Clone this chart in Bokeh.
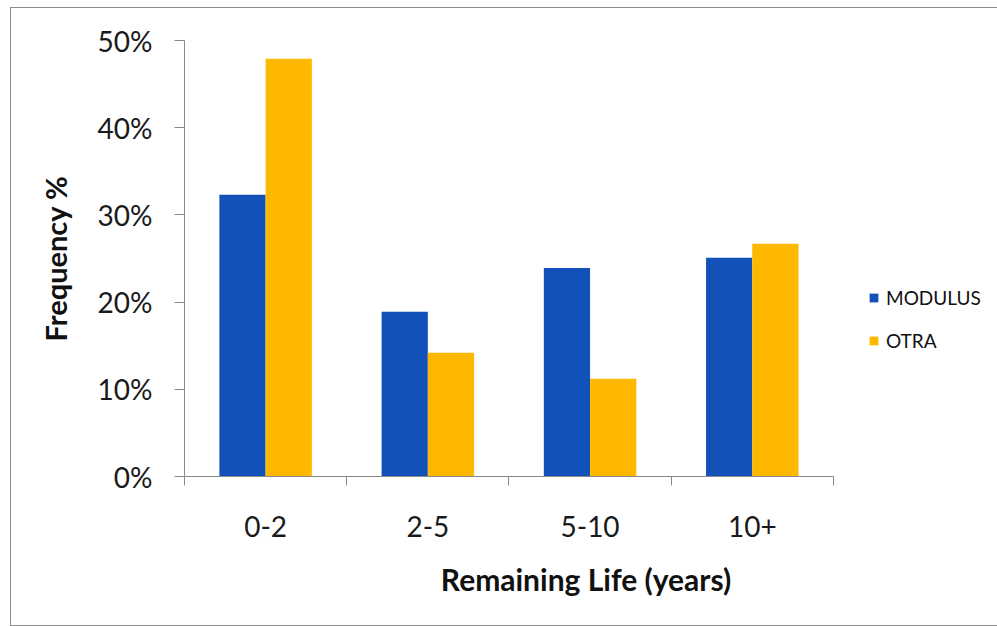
from bokeh.plotting import figure
from bokeh.models import (ColumnDataSource, FixedTicker, NumeralTickFormatter,
                          Legend, LegendItem, Range1d)
from bokeh.embed import file_html
from bokeh.resources import INLINE

categories = ["0-2", "2-5", "5-10", "10+"]
modulus = [0.323, 0.189, 0.239, 0.251]
otra = [0.479, 0.142, 0.112, 0.267]
series_names = ["MODULUS", "OTRA"]
y_ticks = [0.0, 0.1, 0.2, 0.3, 0.4, 0.5]

BLUE = "#1252B8"
ORANGE = "#FFB800"
AXIS = "#8A8A8A"
FONT = "Lato"

n = len(categories)
centers = [i + 0.5 for i in range(n)]
bar_w = 0.285
src = ColumnDataSource(dict(
    xm=[c - bar_w / 2 for c in centers],
    xo=[c + bar_w / 2 for c in centers],
    m=modulus, o=otra, cat=categories))

p = figure(frame_width=803, frame_height=436, output_backend="svg", toolbar_location=None,
           x_range=Range1d(0, 4.95), y_range=Range1d(0, 0.5),
           min_border_left=173, min_border_right=11, min_border_top=32,
           min_border_bottom=149,
           styles={"border": "1px solid #8c8c8c", "margin-left": "10px", "margin-top": "7px"})
p.outline_line_color = None
p.xgrid.grid_line_color = None
p.ygrid.grid_line_color = None

rm = p.vbar(x="xm", top="m", width=bar_w, source=src, fill_color=BLUE, line_color=None)
ro = p.vbar(x="xo", top="o", width=bar_w, source=src, fill_color=ORANGE, line_color=None)

# y axis
ya = p.yaxis[0]
ya.ticker = FixedTicker(ticks=y_ticks)
ya.formatter = NumeralTickFormatter(format="0%")
ya.axis_line_color = AXIS
ya.major_tick_line_color = AXIS
ya.major_tick_out = 10
ya.major_tick_in = 0
ya.minor_tick_line_color = None
ya.major_label_text_font = FONT
ya.major_label_text_font_size = "28px"
ya.major_label_text_color = "#1a1a1a"
ya.major_label_standoff = 22
ya.axis_label = "Frequency %"
ya.axis_label_text_font = FONT
ya.axis_label_text_font_style = "bold"
ya.axis_label_text_font_size = "29px"
ya.axis_label_text_color = "#111111"
ya.axis_label_standoff = 22

# x axis
xa = p.xaxis[0]
xa.bounds = (0, n)
xa.ticker = FixedTicker(ticks=centers, minor_ticks=list(range(n + 1)))
xa.major_label_overrides = {c: cat for c, cat in zip(centers, categories)}
xa.axis_line_color = AXIS
xa.major_tick_line_color = None
xa.minor_tick_line_color = AXIS
xa.minor_tick_out = 9
xa.minor_tick_in = 0
xa.major_label_text_font = FONT
xa.major_label_text_font_size = "28px"
xa.major_label_text_color = "#1a1a1a"
xa.major_label_standoff = 30
xa.axis_label = "Remaining Life (years)"
xa.axis_label_text_font = FONT
xa.axis_label_text_font_style = "bold"
xa.axis_label_text_font_size = "30px"
xa.axis_label_text_color = "#111111"
xa.axis_label_standoff = 21

legend = Legend(items=[LegendItem(label=series_names[0], renderers=[rm]),
                       LegendItem(label=series_names[1], renderers=[ro])],
                location=(684, 124), orientation="vertical",
                label_text_font=FONT, label_text_font_size="19px",
                label_text_color="#111111",
                glyph_width=11, glyph_height=11, spacing=20,
                label_standoff=7, padding=0, margin=0,
                border_line_color=None, background_fill_alpha=0)
p.add_layout(legend, "center")

open("out.html", "w").write(file_html(p, INLINE))
